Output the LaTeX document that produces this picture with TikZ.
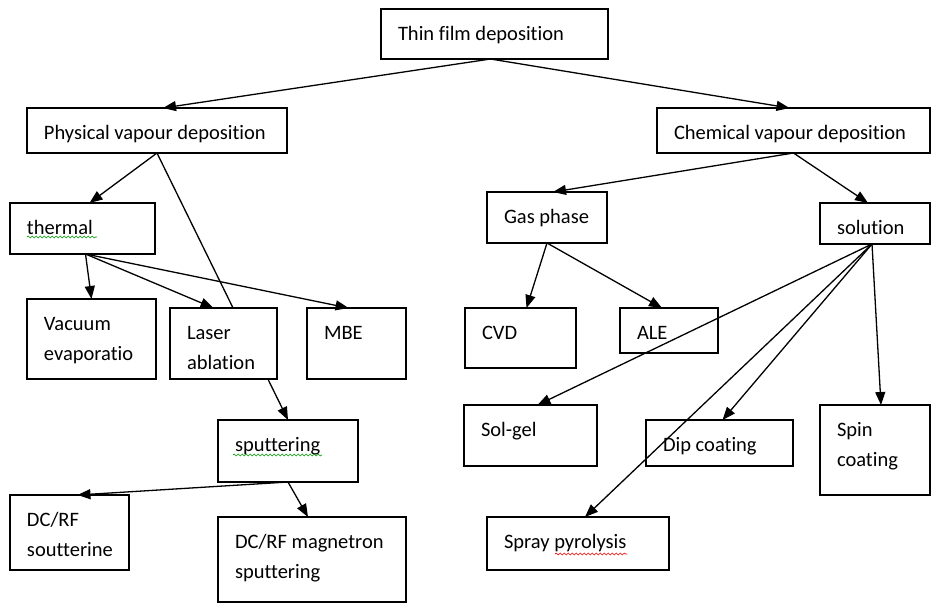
\documentclass[tikz,border=0pt]{standalone}
\usepackage{fontspec}
\setmainfont{Carlito}[Ligatures=NoCommon]
\usetikzlibrary{arrows.meta,backgrounds,decorations.pathmorphing}

% text of a box: width, height, lines (top left)
\newcommand{\boxtext}[3]{\parbox[c][#2pt][t]{#1pt}{\raggedright\leftskip=17pt
  \fontsize{20.5}{30}\selectfont\vspace*{10pt}\strut #3}}

\tikzset{
  box/.style={draw, line width=1.5pt, anchor=north west, inner sep=0pt, outer sep=0pt},
  arr/.style={-{Triangle[length=13pt,width=10pt]}, line width=1.3pt},
  squig/.style={decorate, decoration={snake, amplitude=1pt, segment length=4pt}, line width=0.6pt}
}

\begin{document}
\begin{tikzpicture}[x=1pt, y=-1pt]
  \useasboundingbox (0,0) rectangle (933,603);
  \node[box] (top) at (381,9) {\boxtext{227}{50}{Thin film deposition}};
  \node[box] (pvd) at (27,108) {\boxtext{260}{45}{Physical vapour deposition}};
  \node[box] (cvd) at (657,108) {\boxtext{273}{45}{Chemical vapour deposition}};
  \node[box] (thermal) at (10,203) {\boxtext{145}{51}{thermal}};
  \node[box] (vacuum) at (27,299) {\boxtext{129}{80}{Vacuum\\evaporatio}};
  \node[box, fill=white] (laser) at (170,308) {\boxtext{107}{71}{Laser\\ablation}};
  \node[box] (mbe) at (307,308) {\boxtext{99}{71}{MBE}};
  \node[box] (sputter) at (218,420) {\boxtext{140}{62}{sputtering}};
  \node[box] (dcrf) at (10,495) {\boxtext{119}{75}{DC/RF\\soutterine}};
  \node[box] (magnetron) at (218,517) {\boxtext{188}{85}{DC/RF magnetron\\sputtering}};
  \node[box] (gas) at (487,192) {\boxtext{120}{51}{Gas phase}};
  \node[box] (solution) at (820,203) {\boxtext{110}{41}{solution}};
  \node[box] (cvdbox) at (465,308) {\boxtext{111}{60}{CVD}};
  \node[box] (ale) at (620,308) {\boxtext{98}{45}{ALE}};
  \node[box] (solgel) at (464,405) {\boxtext{133}{61}{Sol-gel}};
  \node[box] (dip) at (646,420) {\boxtext{147}{46}{Dip coating}};
  \node[box] (spin) at (820,405) {\boxtext{110}{90}{Spin\\coating}};
  \node[box] (spray) at (487,517) {\boxtext{182}{53}{Spray pyrolysis}};

  \begin{scope}[on background layer]
    \draw[arr] ([xshift=-4pt]top.south) -- ([xshift=6pt]pvd.north);
    \draw[arr] ([xshift=-4pt]top.south) -- ([xshift=-4pt]cvd.north);
    \draw[arr] (pvd.south) -- ([xshift=7pt]thermal.north);
    \draw[arr] (pvd.south) -- (sputter.north);
    \draw[arr] ([xshift=3pt]thermal.south) -- (vacuum.north);
    \draw[arr] ([xshift=3pt]thermal.south) -- ([xshift=-10pt]laser.north);
    \draw[arr] ([xshift=3pt]thermal.south) -- ([xshift=-8pt]mbe.north);
    \draw[arr] (sputter.south) -- ([xshift=8pt]dcrf.north);
    \draw[arr] (sputter.south) -- ([xshift=-4pt]magnetron.north);
    \draw[arr] (cvd.south) -- ([xshift=6pt]gas.north);
    \draw[arr] (cvd.south) -- ([xshift=-7pt]solution.north);
    \draw[arr] (gas.south) -- ([xshift=6pt]cvdbox.north);
    \draw[arr] (gas.south) -- ([xshift=-7pt]ale.north);
    \draw[arr] ([xshift=-3pt]solution.south) -- ([xshift=7pt]solgel.north);
    \draw[arr] ([xshift=-3pt]solution.south) -- ([xshift=3pt]dip.north);
    \draw[arr] ([xshift=-3pt]solution.south) -- ([xshift=7pt]spray.north);
    \draw[arr] ([xshift=-3pt]solution.south) -- ([xshift=6pt]spin.north);
  \end{scope}

  % spell-check marks
  \draw[squig, green!60!black] (27,237) -- (97,237);
  \draw[squig, green!60!black] (233,455) -- (322,455);
  \draw[squig, red] (555,554) -- (627,554);
\end{tikzpicture}
\end{document}
